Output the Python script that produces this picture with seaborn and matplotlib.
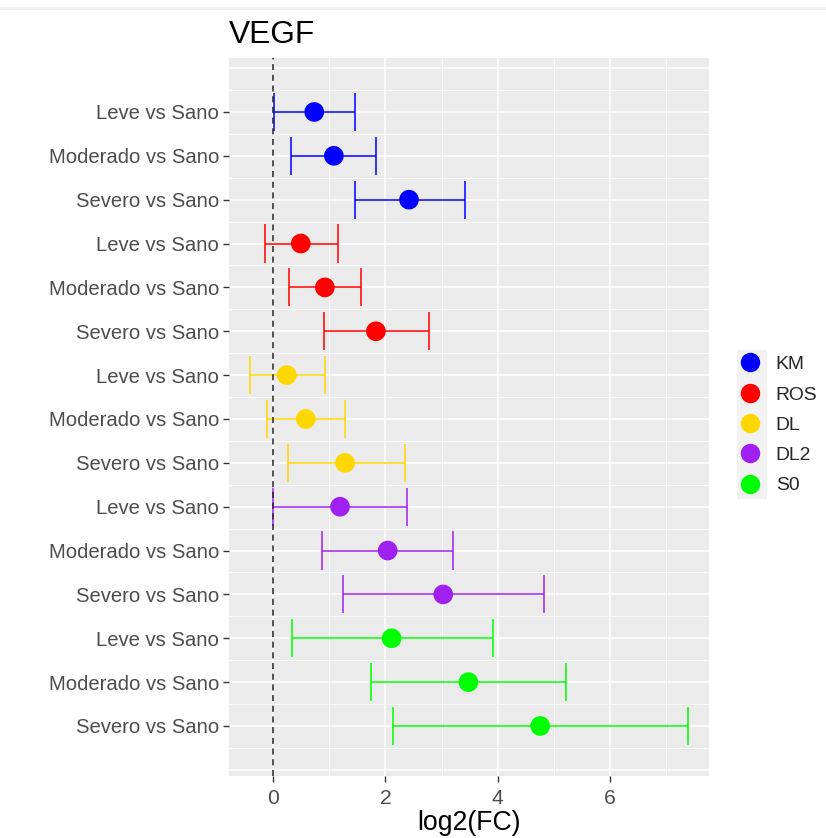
import numpy as np
import pandas as pd
import matplotlib
matplotlib.use("Agg")
import matplotlib.pyplot as plt
from matplotlib.lines import Line2D
from matplotlib.patches import Rectangle
from matplotlib.ticker import FixedLocator
import seaborn as sns

# ---- data ----
groups = ["KM", "ROS", "DL", "DL2", "S0"]
comparisons = ["Leve vs Sano", "Moderado vs Sano", "Severo vs Sano"]
log2fc = [0.73, 1.08, 2.42, 0.49, 0.92, 1.83, 0.24, 0.58, 1.28,
          1.19, 2.04, 3.03, 2.11, 3.48, 4.76]
lower = [0.02, 0.32, 1.46, -0.15, 0.28, 0.90, -0.42, -0.11, 0.26,
         -0.01, 0.86, 1.25, 0.33, 1.75, 2.13]
upper = [1.45, 1.83, 3.42, 1.15, 1.56, 2.78, 0.92, 1.28, 2.35,
         2.39, 3.21, 4.83, 3.92, 5.22, 7.40]
colors = ["#0000FF", "#FF0000", "#FFD700", "#A020F0", "#00FF00"]

rows = []
for gi, g in enumerate(groups):
    for ci, c in enumerate(comparisons):
        k = gi * len(comparisons) + ci
        rows.append(dict(group=g, comparison=c, pos=k,
                         fc=log2fc[k], lo=lower[k], hi=upper[k]))
df = pd.DataFrame(rows)
palette = dict(zip(groups, colors))

sns.set_theme(style="darkgrid")
plt.rcParams["font.family"] = ["Liberation Sans", "DejaVu Sans"]
plt.rcParams["axes.facecolor"] = "#EBEBEB"

fig = plt.figure(figsize=(8.26, 8.38), dpi=100)
ax = fig.add_axes([229 / 826, 1 - 776 / 838, 480 / 826, 718 / 838])
ax.set_facecolor("#EBEBEB")

# error bars
for _, r in df.iterrows():
    col = palette[r.group]
    ax.hlines(r.pos, r.lo, r.hi, color=col, lw=1.1, zorder=3)
    ax.vlines([r.lo, r.hi], r.pos - 0.435, r.pos + 0.435, color=col, lw=1.1, zorder=3)

ax.axvline(0, color="#222222", ls=(0, (4, 3)), lw=1.1, zorder=4)

sns.scatterplot(data=df, x="fc", y="pos", hue="group", palette=palette,
                hue_order=groups, s=200, linewidth=0, zorder=5, ax=ax,
                legend=False)

ax.set_xlim(-0.79, 7.77)
ax.set_ylim(15.14, -1.23)
ax.set_yticks(df["pos"].values)
ax.set_yticklabels(df["comparison"].values)
ax.set_xticks([0, 2, 4, 6])
ax.xaxis.set_minor_locator(FixedLocator([1, 3, 5, 7]))
ax.yaxis.set_minor_locator(FixedLocator(np.arange(-0.5, 15, 1.0)))

ax.grid(which="major", color="white", lw=1.1)
ax.grid(which="minor", color="white", lw=0.55)
for yy in (-1, 15):
    ax.axhline(yy, color="white", lw=1.1, zorder=0.5)
ax.set_axisbelow(True)
for s in ax.spines.values():
    s.set_visible(False)

ax.tick_params(axis="both", which="major", length=4, width=1, color="#333333",
               labelcolor="#4D4D4D", labelsize=14.6, pad=3,
               left=True, bottom=True)
ax.tick_params(axis="x", which="major", labelsize=15.2, pad=5)
ax.tick_params(axis="both", which="minor", length=0)

ax.set_xlabel("log2(FC)", fontsize=19.2, color="black", labelpad=2)
ax.set_ylabel("")
ax.set_title("VEGF", loc="left", fontsize=22.8, color="black", pad=11)

# legend key background
fig.add_artist(Rectangle((737 / 826, 1 - 499 / 838), 30 / 826, 149 / 838,
                         transform=fig.transFigure, facecolor="#F2F2F2",
                         edgecolor="none", zorder=0))
handles = [Line2D([], [], marker="o", ls="none", markersize=14,
                  markerfacecolor=c, markeredgewidth=0) for c in colors]
leg = fig.legend(handles, groups, loc="center left",
                 bbox_to_anchor=(740 / 826, 1 - 425 / 838), frameon=False,
                 fontsize=13.9, handlelength=1.0, handletextpad=0.85,
                 labelspacing=0.66, borderaxespad=0, borderpad=0)

# light separator line at top of image
fig.add_artist(Line2D([0, 1], [1 - 8 / 838, 1 - 8 / 838], transform=fig.transFigure,
                      color="#EEEEEE", lw=2))

fig.savefig("out.png", dpi=100, facecolor="white")
